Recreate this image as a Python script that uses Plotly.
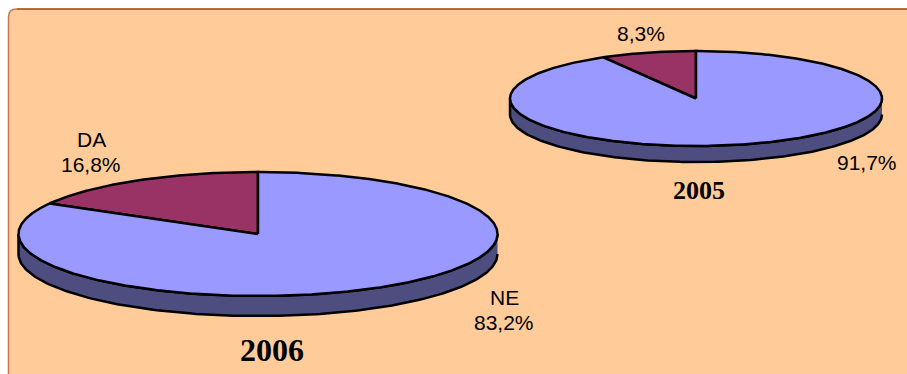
import numpy as np
import plotly.graph_objects as go

W, H = 907, 374
categories = ["DA", "NE"]
values_2006 = [16.8, 83.2]
values_2005 = [8.3, 91.7]
years = ["2006", "2005"]

PANEL = "#FFCC99"; BORDER_TOP = "#A83C08"; BORDER_LEFT = "#C07850"
DA_COL = "#993366"; NE_COL = "#9999FF"; SIDE = "#4D4D80"
LW = 2.5

def pt(cx, cy, rx, ry, a):
    # a: clockwise from 12 o'clock, degrees
    r = np.radians(a)
    return cx + rx * np.sin(r), cy - ry * np.cos(r)

def pie3d(fig, values, cx, cy, rx, ry, depth):
    a = np.linspace(90, 270, 181)
    x, y = pt(cx, cy, rx, ry, a)
    fig.add_trace(go.Scatter(
        x=np.r_[x, x[::-1]], y=np.r_[y + depth, y[::-1]],
        mode="lines", fill="toself", fillcolor=SIDE,
        line=dict(color="black", width=LW), hoverinfo="skip"))
    total = sum(values)
    da_ang = values[0] / total * 360
    spans = [(360 - da_ang, 360, DA_COL), (0, 360 - da_ang, NE_COL)]
    for a0, a1, col in spans:
        a = np.linspace(a0, a1, max(int(a1 - a0), 2) * 2)
        x, y = pt(cx, cy, rx, ry, a)
        fig.add_trace(go.Scatter(
            x=np.r_[cx, x, cx], y=np.r_[cy, y, cy],
            mode="lines", fill="toself", fillcolor=col,
            line=dict(color="black", width=LW), hoverinfo="skip"))

fig = go.Figure()
pie3d(fig, values_2006, 258, 234, 239.5, 62, 20)
pie3d(fig, values_2005, 696, 98.5, 186, 47.5, 16)

def label(x, y, text, size=21, font="Liberation Sans", bold=False):
    fig.add_annotation(x=x, y=y, text=f"<b>{text}</b>" if bold else text, showarrow=False,
                       font=dict(family=font, size=size, color="black"),
                       xanchor="center", yanchor="middle", align="center")

label(91, 139, categories[0])
label(91, 164, f"{values_2006[0]:.1f}%".replace(".", ","))
label(504, 297, categories[1])
label(504, 322, f"{values_2006[1]:.1f}%".replace(".", ","))
label(641, 33, f"{values_2005[0]:.1f}%".replace(".", ","))
label(867, 162, f"{values_2005[1]:.1f}%".replace(".", ","))
label(272, 350, years[0], size=32, font="Liberation Serif", bold=True)
label(699, 190, years[1], size=26, font="Liberation Serif", bold=True)

r = 8
panel_path = f"M 8.5 {H+5} L 8.5 {9+r} Q 8.5 9 {8.5+r} 9 L {W+5} 9 L {W+5} {H+5} Z"
left_path = f"M 8.5 {H+5} L 8.5 {9+r} Q 8.5 9 {8.5+r} 9"
top_path = f"M {8.5+r} 9 L {W+5} 9"
fig.update_layout(
    width=W, height=H, autosize=False, showlegend=False,
    margin=dict(l=0, r=0, t=0, b=0),
    paper_bgcolor="white", plot_bgcolor="white",
    xaxis=dict(range=[0, W], visible=False, fixedrange=True),
    yaxis=dict(range=[H, 0], visible=False, fixedrange=True),
    shapes=[
        dict(type="path", path=panel_path, fillcolor=PANEL, line=dict(width=0), layer="below"),
        dict(type="path", path=left_path, line=dict(color=BORDER_LEFT, width=1.5), layer="below"),
        dict(type="path", path=top_path, line=dict(color=BORDER_TOP, width=1.5), layer="below"),
    ],
)
fig.write_html("out.html", config={"displayModeBar": False, "responsive": False},
               post_script="document.body.style.margin='0';document.documentElement.style.overflow='hidden';")
